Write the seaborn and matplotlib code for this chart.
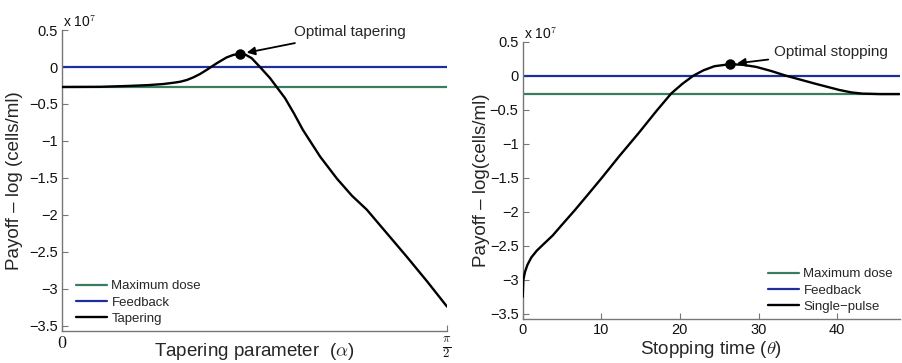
import numpy as np
import pandas as pd
import matplotlib
matplotlib.use("Agg")
import matplotlib.pyplot as plt
from matplotlib.ticker import FuncFormatter
import seaborn as sns

# ---- data (values in units of 1e7) ----
alpha = [0.0, 0.155, 0.277, 0.35, 0.413, 0.45, 0.481, 0.51, 0.536, 0.563, 0.590, 0.631,
         0.672, 0.70, 0.726, 0.75, 0.774, 0.808, 0.849, 0.876, 0.910, 0.947, 0.983,
         1.053, 1.122, 1.183, 1.244, 1.326, 1.408, 1.49, 1.571]
tapering = [-0.27, -0.268, -0.255, -0.245, -0.23, -0.215, -0.20, -0.175, -0.14, -0.095, -0.04, 0.05,
            0.13, 0.165, 0.176, 0.165, 0.12, 0.0, -0.15, -0.27, -0.42, -0.63, -0.85,
            -1.21, -1.51, -1.74, -1.93, -2.25, -2.57, -2.90, -3.24]
theta = [0.0, 0.08, 0.3, 0.6, 1.1, 1.8, 2.7, 3.8, 5.0, 6.6, 8.2, 10.0, 12.3, 14.7, 17.0, 18.9,
         20.3, 21.7, 23.0, 24.4, 26.4, 28.0, 29.7, 31.6, 33.5, 35.4, 37.3, 38.8, 40.3,
         41.8, 43.2, 45.5, 47.9]
single_pulse = [-3.25, -3.0, -2.88, -2.78, -2.67, -2.57, -2.47, -2.35, -2.19, -1.98, -1.76, -1.51,
                -1.18, -0.85, -0.52, -0.26, -0.12, 0.0, 0.08, 0.14, 0.17, 0.16, 0.13, 0.07,
                0.0, -0.06, -0.12, -0.165, -0.21, -0.245, -0.263, -0.27, -0.27]
max_dose = -0.27
feedback = 0.0
opt_alpha, opt_taper = 0.726, 0.176
opt_theta, opt_stop = 26.4, 0.17
yticks = [0.5, 0, -0.5, -1, -1.5, -2, -2.5, -3, -3.5]
xticks_right = [0, 10, 20, 30, 40]

GREEN = "#3a7d5e"
BLUE = "#1c2f9a"

sns.set_theme(style="ticks")
plt.rcParams["font.family"] = ["Liberation Sans", "DejaVu Sans"]
plt.rcParams["mathtext.fontset"] = "cm"

fig = plt.figure(figsize=(9.02, 3.63), dpi=100)
axL = fig.add_axes([0.0687, 0.0882, 0.4268, 0.829])
axR = fig.add_axes([0.5795, 0.1204, 0.4183, 0.7647])

fmt = FuncFormatter(lambda v, p: ("%g" % v).replace("-", "\u2212"))

def style(ax):
    for s in ["top", "right"]:
        ax.spines[s].set_visible(False)
    for s in ["left", "bottom"]:
        ax.spines[s].set_color("#777777")
        ax.spines[s].set_linewidth(1.0)
    ax.tick_params(direction="in", length=4, width=0.8, color="#777777",
                   labelsize=10.5, labelcolor="#111111", pad=3)
    ax.set_yticks(yticks)
    ax.yaxis.set_major_formatter(fmt)
    ax.text(0.003, 1.0, r"x 10$^7$", transform=ax.transAxes, fontsize=10,
            ha="left", va="bottom", color="#111111")

# Left panel
dfL = pd.DataFrame({"x": alpha, "y": tapering})
axL.axhline(max_dose, color=GREEN, lw=1.6, label="Maximum dose")
axL.axhline(feedback, color=BLUE, lw=1.6, label="Feedback")
sns.lineplot(data=dfL, x="x", y="y", ax=axL, color="black", lw=1.7, label="Tapering",
             sort=False, zorder=3)
axL.plot([opt_alpha], [opt_taper], "o", color="black", ms=6.5, zorder=4)
axL.annotate("Optimal tapering", xy=(opt_alpha, opt_taper), xytext=(0.945, 0.47),
             fontsize=11, ha="left", va="center",
             arrowprops=dict(arrowstyle="-|>", color="black", lw=1.3, shrinkA=2, shrinkB=5,
                             mutation_scale=12))
axL.set_xlim(0, np.pi / 2)
axL.set_ylim(-3.57, 0.5)
style(axL)
axL.set_xticks([0, np.pi / 2])
axL.set_xticklabels([r"$0$", r"$\frac{\pi}{2}$"], fontsize=13)
axL.set_xlabel(r"Tapering parameter  ($\alpha$)", fontsize=13.5)
axL.xaxis.set_label_coords(0.5, -0.032)
axL.set_ylabel("Payoff \u2013 log (cells/ml)", fontsize=13.5, labelpad=4)
axL.legend(loc="lower left", frameon=False, fontsize=9.5, handlelength=2.4,
           handletextpad=0.3, labelspacing=0.3, borderaxespad=0.3,
           bbox_to_anchor=(0.012, -0.01))

# Right panel
dfR = pd.DataFrame({"x": theta, "y": single_pulse})
axR.axhline(max_dose, color=GREEN, lw=1.6, label="Maximum dose")
axR.axhline(feedback, color=BLUE, lw=1.6, label="Feedback")
sns.lineplot(data=dfR, x="x", y="y", ax=axR, color="black", lw=1.7, label="Single\u2212pulse",
             sort=False, zorder=3)
axR.plot([opt_theta], [opt_stop], "o", color="black", ms=6.5, zorder=4)
axR.annotate("Optimal stopping", xy=(opt_theta, opt_stop), xytext=(32.0, 0.35),
             fontsize=11, ha="left", va="center",
             arrowprops=dict(arrowstyle="-|>", color="black", lw=1.3, shrinkA=2, shrinkB=5,
                             mutation_scale=12))
axR.set_xlim(0, 48)
axR.set_ylim(-3.58, 0.5)
style(axR)
axR.set_xticks(xticks_right)
axR.set_xlabel(r"Stopping time ($\theta$)", fontsize=13.5, labelpad=1)
axR.set_ylabel("Payoff \u2013 log(cells/ml)", fontsize=13.5, labelpad=0)
axR.legend(loc="lower right", frameon=False, fontsize=9.5, handlelength=2.4,
           handletextpad=0.3, labelspacing=0.3, borderaxespad=0.3,
           bbox_to_anchor=(1.006, -0.01))

fig.savefig("out.png", dpi=100)
